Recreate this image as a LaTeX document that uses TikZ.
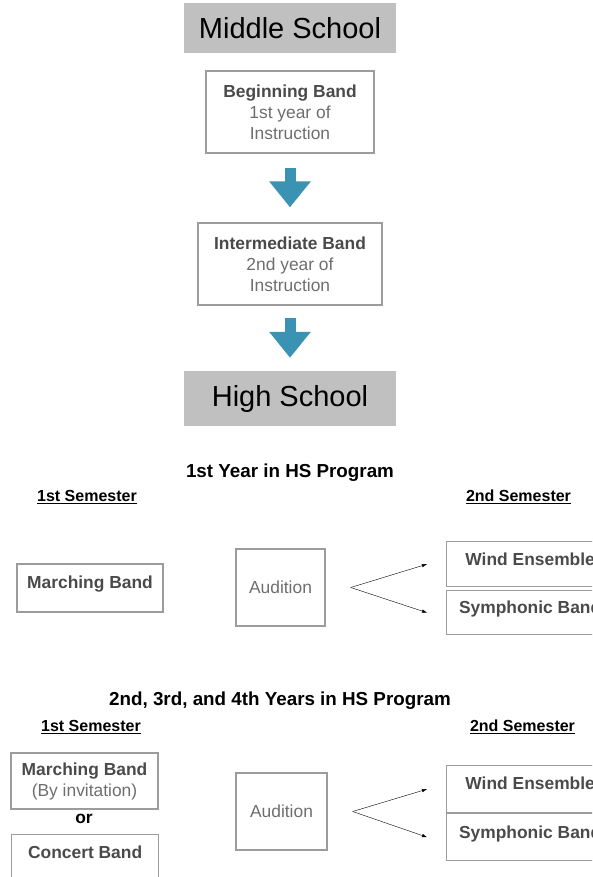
\documentclass[tikz,border=0pt]{standalone}
\usepackage{fontspec}
\setmainfont{Liberation Sans}
\usetikzlibrary{arrows.meta}
\definecolor{schoolgray}{HTML}{C0C0C0}
\definecolor{boxline}{HTML}{9C9C9C}
\definecolor{boldtext}{HTML}{4A4A4A}
\definecolor{softtext}{HTML}{6E6E6E}
\definecolor{flowblue}{HTML}{3A93B3}
\begin{document}
\begin{tikzpicture}[x=1pt,y=-1pt,
  school/.style={fill=schoolgray, minimum width=212pt, minimum height=50pt,
    inner sep=0pt, font=\fontsize{29}{34}\selectfont},
  bandbox/.style={draw=boxline, line width=1.3pt, inner sep=0pt, align=center,
    text=boldtext, font=\fontsize{17.4}{21}\selectfont},
  boxnote/.style={text=softtext, font=\fontsize{17.4}{21}\selectfont},
  heading/.style={font=\bfseries\fontsize{18.8}{22}\selectfont},
  semester/.style={font=\bfseries\fontsize{16}{19}\selectfont},
  flow/.style={line width=11pt, flowblue, -{Triangle[length=26pt,width=40pt]}},
  >={Latex[length=5pt,width=3.5pt]}]
  \useasboundingbox (0,0) rectangle (592,877);
  \clip (0,0) rectangle (592,877);
  % Middle school
  \node[school] (ms) at (290,28) {Middle School};
  \node[bandbox, minimum width=168pt, minimum height=82pt] (bb) at (290,112)
    {\textbf{Beginning Band}\\\color{softtext}1st year of\\\color{softtext}Instruction};
  \node[bandbox, minimum width=184pt, minimum height=82pt] (ib) at (290,264)
    {\textbf{Intermediate Band}\\\color{softtext}2nd year of\\\color{softtext}Instruction};
  \draw[flow] ([yshift=-14pt]bb.south) -- ([yshift=15pt]ib.north);
  % High school
  \node[school, minimum height=55pt] (hs) at (290,398.5) {High School};
  \draw[flow] ([yshift=-12pt]ib.south) -- ([yshift=13pt]hs.north);
  % 1st year
  \node[heading] (year1) at (290,473) {1st Year in HS Program};
  \node[semester] (sem1a) at (87,497) {\underline{1st Semester}};
  \node[semester] (sem1b) at (518.5,497) {\underline{2nd Semester}};
  \node[bandbox, minimum width=146pt, text height=24pt, text depth=24pt] (mb1) at (90,588) {\textbf{Marching Band}};
  \node[bandbox, boxnote, minimum width=89pt, minimum height=77pt] (aud1) at (280.5,587.5) {Audition};
  \node[bandbox, anchor=north west, minimum width=167pt, text height=24pt, text depth=21pt] (we1) at (446,541) {\textbf{Wind Ensemble}};
  \node[bandbox, anchor=north west, minimum width=167pt, text height=23pt, text depth=21pt] (sb1) at (446,590) {\textbf{Symphonic Band}};
  \coordinate (fork1) at ([xshift=25pt]aud1.east);
  \draw[->] (fork1) -- ([xshift=-19pt]we1.west);
  \draw[->] (fork1) -- ([xshift=-19pt]sb1.west);
  % 2nd, 3rd and 4th years
  \node[heading] (year2) at (280,701) {2nd, 3rd, and 4th Years in HS Program};
  \node[semester] (sem2a) at (91,727) {\underline{1st Semester}};
  \node[semester] (sem2b) at (522.5,727) {\underline{2nd Semester}};
  \node[bandbox, minimum width=147pt, minimum height=56pt] (mb2) at (84.5,781)
    {\textbf{Marching Band}\\\color{softtext}(By invitation)};
  \node[font=\bfseries\fontsize{17.4}{21}\selectfont] (or) at (84,819) {or};
  \node[bandbox, anchor=north west, minimum width=147pt, text height=24pt, text depth=26pt] (cb2) at (11,834) {\textbf{Concert Band}};
  \node[bandbox, boxnote, minimum width=91pt, minimum height=77pt] (aud2) at (281.5,811.5) {Audition};
  \node[bandbox, anchor=north west, minimum width=167pt, text height=24pt, text depth=23pt] (we2) at (446,765) {\textbf{Wind Ensemble}};
  \node[bandbox, anchor=north west, minimum width=167pt, text height=25pt, text depth=22pt] (sb2) at (446,813) {\textbf{Symphonic Band}};
  \coordinate (fork2) at ([xshift=25pt]aud2.east);
  \draw[->] (fork2) -- ([xshift=-19pt]we2.west);
  \draw[->] (fork2) -- ([xshift=-19pt]sb2.west);
\end{tikzpicture}
\end{document}
